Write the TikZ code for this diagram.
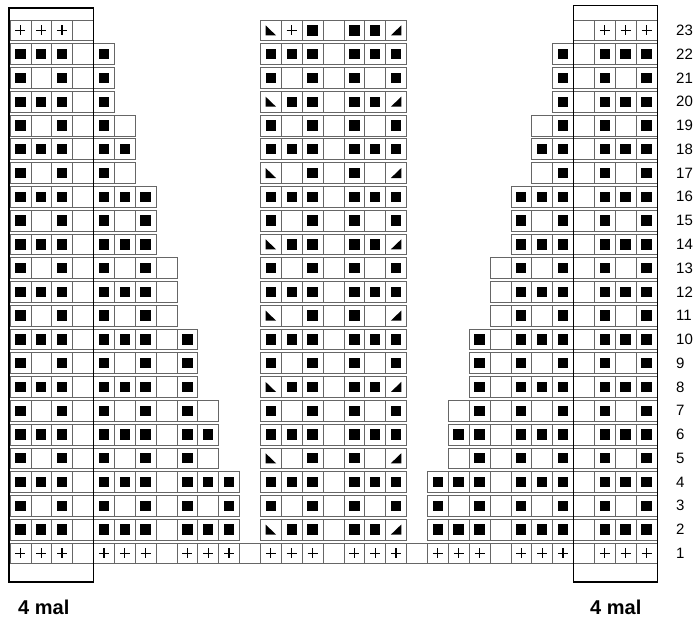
\documentclass[tikz,border=0pt]{standalone}
\usepackage{fontspec}
\setmainfont{Liberation Sans}
\tikzset{
  cellbox/.style={draw=black!60, line width=0.7pt},
  blk/.style={fill=black},
  plusln/.style={line width=1.3pt, draw=black},
  repbox/.style={draw=black, line width=1.5pt},
  rowlab/.style={anchor=west, inner sep=0pt, font=\fontsize{15}{15}\selectfont},
  malab/.style={anchor=base west, inner sep=0pt, font=\bfseries\fontsize{20}{20}\selectfont}
}
\newcommand\kset[2]{\pgfmathsetmacro\kx{10+(#1-1)*20.87}\pgfmathsetmacro\ky{20+(23-#2)*23.77}}
\newcommand\kcn[2]{}
\newcommand\kco[2]{\kset{#1}{#2}\draw[cellbox] (\kx,\ky) rectangle ++(20.87,20.8);}
\newcommand\kcx[2]{\kco{#1}{#2}\fill[blk] (\kx+5.2,\ky+5.2) rectangle ++(10.4,10.4);}
\newcommand\kcp[2]{\kco{#1}{#2}\draw[plusln] (\kx+5.4,\ky+10.4) -- ++(10,0);\draw[plusln] (\kx+10.4,\ky+5.4) -- ++(0,10);}
\newcommand\kcl[2]{\kco{#1}{#2}\fill[blk] (\kx+5.2,\ky+5.4) -- (\kx+5.2,\ky+15.4) -- (\kx+15.6,\ky+15.4) -- cycle;}
\newcommand\kcr[2]{\kco{#1}{#2}\fill[blk] (\kx+15.6,\ky+5.4) -- (\kx+15.6,\ky+15.4) -- (\kx+5.2,\ky+15.4) -- cycle;}
\newcommand\krow[2]{\foreach \k [count=\c] in {#2} {\csname kc\k\endcsname{\c}{#1}}}
\begin{document}
\begin{tikzpicture}[x=1pt,y=-1pt]
\useasboundingbox (0,0) rectangle (697,618);
\krow{23}{p,p,p,o, n,n,n,n, n,n,n,n, l,p,x,o,x,x,r, n, n,n,n, n, n,n,n, o, p,p,p}
\krow{22}{x,x,x,o, x,n,n,n, n,n,n,n, x,x,x,o,x,x,x, n, n,n,n, n, n,n,x, o, x,x,x}
\krow{21}{x,o,x,o, x,n,n,n, n,n,n,n, x,o,x,o,x,o,x, n, n,n,n, n, n,n,x, o, x,o,x}
\krow{20}{x,x,x,o, x,n,n,n, n,n,n,n, l,x,x,o,x,x,r, n, n,n,n, n, n,n,x, o, x,x,x}
\krow{19}{x,o,x,o, x,o,n,n, n,n,n,n, x,o,x,o,x,o,x, n, n,n,n, n, n,o,x, o, x,o,x}
\krow{18}{x,x,x,o, x,x,n,n, n,n,n,n, x,x,x,o,x,x,x, n, n,n,n, n, n,x,x, o, x,x,x}
\krow{17}{x,o,x,o, x,o,n,n, n,n,n,n, l,o,x,o,x,o,r, n, n,n,n, n, n,o,x, o, x,o,x}
\krow{16}{x,x,x,o, x,x,x,n, n,n,n,n, x,x,x,o,x,x,x, n, n,n,n, n, x,x,x, o, x,x,x}
\krow{15}{x,o,x,o, x,o,x,n, n,n,n,n, x,o,x,o,x,o,x, n, n,n,n, n, x,o,x, o, x,o,x}
\krow{14}{x,x,x,o, x,x,x,n, n,n,n,n, l,x,x,o,x,x,r, n, n,n,n, n, x,x,x, o, x,x,x}
\krow{13}{x,o,x,o, x,o,x,o, n,n,n,n, x,o,x,o,x,o,x, n, n,n,n, o, x,o,x, o, x,o,x}
\krow{12}{x,x,x,o, x,x,x,o, n,n,n,n, x,x,x,o,x,x,x, n, n,n,n, o, x,x,x, o, x,x,x}
\krow{11}{x,o,x,o, x,o,x,o, n,n,n,n, l,o,x,o,x,o,r, n, n,n,n, o, x,o,x, o, x,o,x}
\krow{10}{x,x,x,o, x,x,x,o, x,n,n,n, x,x,x,o,x,x,x, n, n,n,x, o, x,x,x, o, x,x,x}
\krow{9}{x,o,x,o, x,o,x,o, x,n,n,n, x,o,x,o,x,o,x, n, n,n,x, o, x,o,x, o, x,o,x}
\krow{8}{x,x,x,o, x,x,x,o, x,n,n,n, l,x,x,o,x,x,r, n, n,n,x, o, x,x,x, o, x,x,x}
\krow{7}{x,o,x,o, x,o,x,o, x,o,n,n, x,o,x,o,x,o,x, n, n,o,x, o, x,o,x, o, x,o,x}
\krow{6}{x,x,x,o, x,x,x,o, x,x,n,n, x,x,x,o,x,x,x, n, n,x,x, o, x,x,x, o, x,x,x}
\krow{5}{x,o,x,o, x,o,x,o, x,o,n,n, l,o,x,o,x,o,r, n, n,o,x, o, x,o,x, o, x,o,x}
\krow{4}{x,x,x,o, x,x,x,o, x,x,x,n, x,x,x,o,x,x,x, n, x,x,x, o, x,x,x, o, x,x,x}
\krow{3}{x,o,x,o, x,o,x,o, x,o,x,n, x,o,x,o,x,o,x, n, x,o,x, o, x,o,x, o, x,o,x}
\krow{2}{x,x,x,o, x,x,x,o, x,x,x,n, l,x,x,o,x,x,r, n, x,x,x, o, x,x,x, o, x,x,x}
\krow{1}{p,p,p,o, p,p,p,o, p,p,p,o, p,p,p,o,p,p,p, o, p,p,p, o, p,p,p, o, p,p,p}
% repeat boxes
\draw[repbox] (9.2,8) rectangle (93.6,582);
\draw[repbox] (573.6,5.6) rectangle (657.6,582);
% row numbers
\foreach \r in {1,...,23} {
  \node[rowlab] (lab\r) at (676,{20+(23-\r)*23.77+10.4}) {\r};
}
\node[malab] (malL) at (18,614) {4 mal};
\node[malab] (malR) at (590,614) {4 mal};
\end{tikzpicture}
\end{document}
